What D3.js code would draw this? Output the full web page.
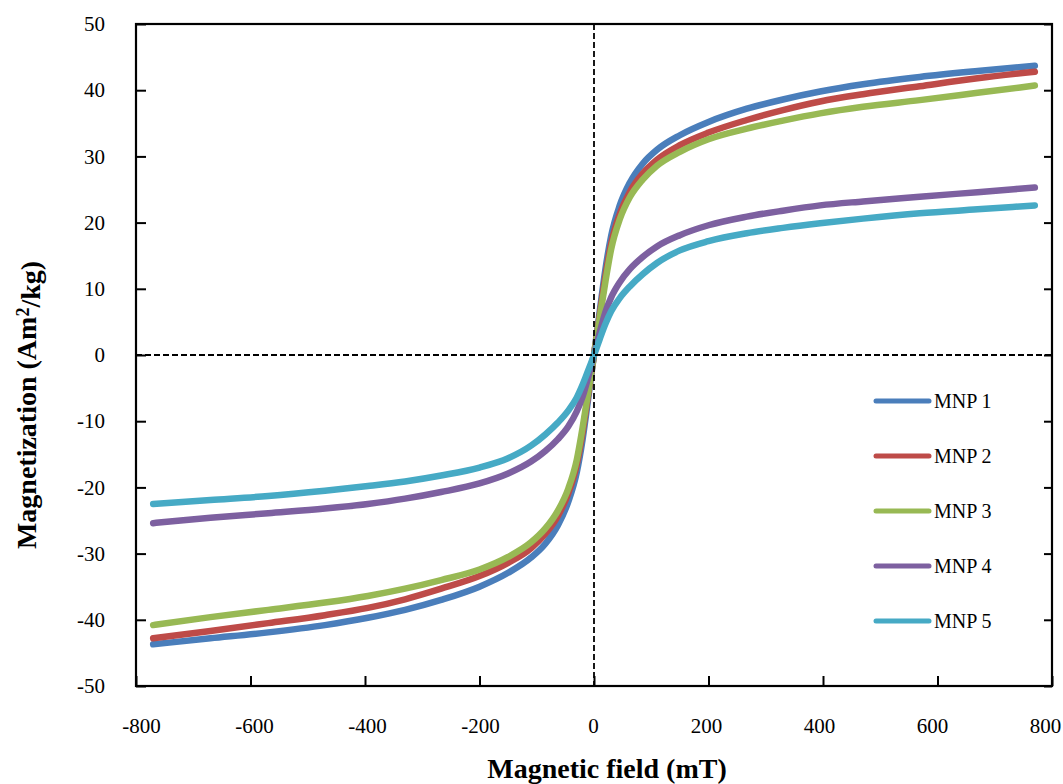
<!DOCTYPE html>
<html lang="en">
<head>
  <meta charset="UTF-8">
  <title>Magnetization vs. Magnetic field</title>
  <script src="https://d3js.org/d3.v7.min.js"></script>
  <style>
    body { margin: 0; background: #fff; }
    svg { display: block; font-family: "Liberation Serif", "Times New Roman", serif; }
    svg text { font-family: "Liberation Serif", "Times New Roman", serif; }
  </style>
</head>
<body>
  <svg id="chart" width="1063" height="784"></svg>
  <script>
    // Field values (mT), shared by every series
    const field = [-770, -670, -569, -470, -395, -330, -267, -200, -150, -110, -85, -63, -45, -30, -20, -10, -5,
                   0, 5, 10, 20, 30, 45, 63, 85, 110, 150, 200, 267, 330, 395, 470, 569, 670, 770];

    // Magnetization (Am2/kg)
    const mnp1 = [-43.7, -42.8, -41.9, -40.8, -39.7, -38.5, -37.0, -35.0, -32.9, -30.6, -28.5, -25.7, -22.2, -17.7, -12.8, -6.5, -3.2,
                  0, 3.3, 6.6, 13.0, 18.0, 22.6, 26.1, 28.9, 31.0, 33.2, 35.2, 37.2, 38.6, 39.8, 40.9, 42.0, 42.9, 43.7];
    const mnp2 = [-42.8, -41.7, -40.5, -39.3, -38.2, -36.9, -35.3, -33.4, -31.4, -29.2, -27.0, -24.3, -20.9, -16.5, -11.7, -5.9, -2.9,
                  0, 3.0, 6.0, 11.9, 16.8, 21.3, 24.7, 27.4, 29.5, 31.7, 33.6, 35.5, 37.0, 38.3, 39.4, 40.6, 41.8, 42.8];
    const mnp3 = [-40.8, -39.6, -38.5, -37.4, -36.4, -35.3, -34.0, -32.4, -30.5, -28.3, -26.2, -23.5, -20.2, -15.8, -11.0, -5.5, -2.7,
                  0, 2.8, 5.6, 11.1, 16.0, 20.5, 23.9, 26.5, 28.6, 30.7, 32.6, 34.2, 35.4, 36.5, 37.5, 38.5, 39.6, 40.7];
    const mnp4 = [-25.4, -24.6, -23.9, -23.2, -22.5, -21.7, -20.7, -19.4, -17.9, -16.1, -14.5, -12.7, -10.8, -8.5, -6.3, -3.3, -1.6,
                  0, 1.7, 3.4, 6.5, 8.7, 11.0, 13.0, 14.8, 16.4, 18.1, 19.6, 20.9, 21.8, 22.6, 23.2, 23.9, 24.6, 25.3];
    const mnp5 = [-22.5, -21.9, -21.3, -20.5, -19.8, -19.1, -18.2, -17.0, -15.6, -13.7, -12.0, -10.2, -8.4, -6.4, -4.5, -2.3, -1.2,
                  0, 1.2, 2.4, 4.7, 6.6, 8.6, 10.4, 12.2, 13.9, 15.8, 17.2, 18.4, 19.2, 19.9, 20.6, 21.4, 22.0, 22.6];

    const seriesNames = ["MNP 1", "MNP 2", "MNP 3", "MNP 4", "MNP 5"];
    const seriesValues = [mnp1, mnp2, mnp3, mnp4, mnp5];
    const colors = ["#4a7ebb", "#be4b48", "#98b954", "#7d60a0", "#46aac5"];

    const xTicks = [-800, -600, -400, -200, 0, 200, 400, 600, 800];
    const yTicks = [-50, -40, -30, -20, -10, 0, 10, 20, 30, 40, 50];

    // Plot area
    const plotLeft = 136, plotRight = 1052, plotTop = 24, plotBottom = 686;

    const svg = d3.select("#chart");

    const x = d3.scaleLinear().domain([-800, 800]).range([plotLeft, plotRight]);
    const y = d3.scaleLinear().domain([-50, 50]).range([plotBottom, plotTop]);
    // Excel squeezes the end labels inward a little
    const xLabel = d3.scaleLinear().domain([-800, 800]).range([141, 1045]);

    const fmt = d => d < 0 ? "-" + Math.abs(d) : String(d);

    // Curves
    const line = d3.line()
      .x(d => x(d[0]))
      .y(d => y(d[1]))
      .curve(d3.curveMonotoneX);

    seriesValues.forEach((vals, i) => {
      svg.append("path")
        .datum(field.map((f, j) => [f, vals[j]]))
        .attr("fill", "none")
        .attr("stroke", colors[i])
        .attr("stroke-width", 6.5)
        .attr("stroke-linecap", "round")
        .attr("stroke-linejoin", "round")
        .attr("d", line);
    });

    // Dashed zero lines
    svg.append("line")
      .attr("x1", x(0)).attr("x2", x(0))
      .attr("y1", plotTop).attr("y2", plotBottom)
      .attr("stroke", "#000").attr("stroke-width", 1.8)
      .attr("stroke-dasharray", "6,3");
    svg.append("line")
      .attr("x1", plotLeft).attr("x2", plotRight)
      .attr("y1", y(0)).attr("y2", y(0))
      .attr("stroke", "#000").attr("stroke-width", 1.8)
      .attr("stroke-dasharray", "6,3");

    // Frame
    svg.append("rect")
      .attr("x", plotLeft).attr("y", plotTop)
      .attr("width", plotRight - plotLeft).attr("height", plotBottom - plotTop)
      .attr("fill", "none").attr("stroke", "#000").attr("stroke-width", 2.2);

    // Left axis: inward ticks, labels outside
    const yAxis = svg.append("g")
      .attr("transform", `translate(${plotLeft},0)`)
      .call(d3.axisLeft(y).tickValues(yTicks).tickSize(-10).tickPadding(31).tickFormat(fmt))
      .attr("font-family", null);
    yAxis.select(".domain").remove();
    yAxis.selectAll(".tick line").attr("stroke", "#000").attr("stroke-width", 2);
    yAxis.selectAll("text").style("font-size", "21px").attr("fill", "#000");

    // Right axis: ticks only
    const yAxisR = svg.append("g")
      .attr("transform", `translate(${plotRight},0)`)
      .call(d3.axisRight(y).tickValues(yTicks).tickSize(-8).tickFormat(""));
    yAxisR.select(".domain").remove();
    yAxisR.selectAll(".tick line").attr("stroke", "#000").attr("stroke-width", 2);

    // Bottom axis ticks
    const xAxis = svg.append("g")
      .attr("transform", `translate(0,${plotBottom})`)
      .call(d3.axisBottom(x).tickValues(xTicks).tickSize(-10).tickFormat(""));
    xAxis.select(".domain").remove();
    xAxis.selectAll(".tick line").attr("stroke", "#000").attr("stroke-width", 2);

    // Bottom axis labels
    const xLab = svg.append("g")
      .attr("transform", `translate(0,${plotBottom})`)
      .call(d3.axisBottom(xLabel).tickValues(xTicks).tickSize(0).tickPadding(32).tickFormat(fmt))
      .attr("font-family", null);
    xLab.select(".domain").remove();
    xLab.selectAll("text").style("font-size", "21px").attr("fill", "#000");

    // Axis titles
    svg.append("text")
      .attr("x", 607)
      .attr("y", 778)
      .attr("text-anchor", "middle")
      .style("font-size", "28px")
      .style("font-weight", "bold")
      .text("Magnetic field (mT)");

    const yTitle = svg.append("text")
      .attr("transform", "translate(36,405) rotate(-90)")
      .attr("text-anchor", "middle")
      .style("font-size", "28px")
      .style("font-weight", "bold");
    yTitle.append("tspan").text("Magnetization (Am");
    yTitle.append("tspan").attr("dy", "-0.4em").style("font-size", "18px").text("2");
    yTitle.append("tspan").attr("dy", "0.4em").text("/kg)");

    // Legend
    const legend = svg.append("g");
    seriesNames.forEach((name, i) => {
      const ly = 401 + i * 55;
      legend.append("line")
        .attr("x1", 876).attr("x2", 929)
        .attr("y1", ly).attr("y2", ly)
        .attr("stroke", colors[i]).attr("stroke-width", 5)
        .attr("stroke-linecap", "round");
      legend.append("text")
        .attr("x", 934).attr("y", ly)
        .attr("dy", "0.35em")
        .style("font-size", "20px")
        .text(name);
    });
  </script>
</body>
</html>
